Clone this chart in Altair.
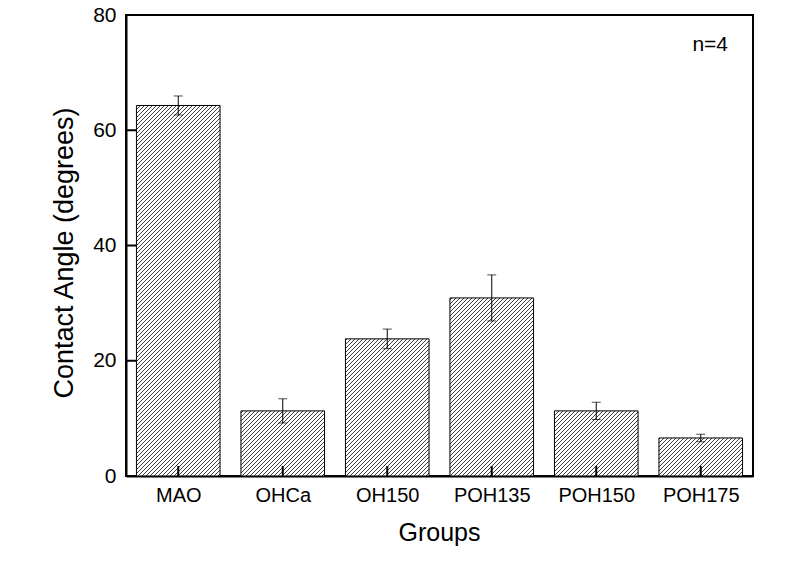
import altair as alt
import pandas as pd

# ---- data ----
groups = ["MAO", "OHCa", "OH150", "POH135", "POH150", "POH175"]
means = [64.3, 11.3, 23.8, 30.9, 11.3, 6.6]
errors = [1.65, 2.1, 1.7, 4.0, 1.5, 0.65]
y_ticks = [0, 20, 40, 60, 80]
y_max = 80

W, H = 627, 461
FONT = "Liberation Sans"
HALF = 0.4          # half bar width in slot units
SPACING = 4.0       # hatch spacing (px, horizontal)

n = len(groups)
idx = list(range(n))
bars = pd.DataFrame({
    "idx": idx, "group": groups, "mean": means, "err": errors,
})
bars["xl"] = bars["idx"] - HALF
bars["xr"] = bars["idx"] + HALF
bars["lo"] = bars["mean"] - bars["err"]
bars["hi"] = bars["mean"] + bars["err"]

# hatch lines derived from the bar values (45 deg in screen space)
pxu = W / n          # px per x unit
pyu = H / y_max      # px per y unit
rows = []
for i, v in zip(idx, means):
    L = (i - HALF + 0.5) * pxu
    R = (i + HALF + 0.5) * pxu
    T = v * pyu
    k0 = int((L - T) // SPACING)
    k1 = int(R // SPACING) + 1
    for m in range(k0, k1 + 1):
        k = m * SPACING
        if k < L - T or k > R:
            continue
        if k >= L:
            sx, sy = k, 0.0
        else:
            sx, sy = L, L - k
        if R - k <= T:
            ex, ey = R, R - k
        else:
            ex, ey = T + k, T
        if ex - sx < 0.3:
            continue
        rows.append({
            "x1": sx / pxu - 0.5, "y1": sy / pyu,
            "x2": ex / pxu - 0.5, "y2": ey / pyu,
        })
hatch = pd.DataFrame(rows)

xscale = alt.Scale(domain=[-0.5, n - 0.5], nice=False, zero=False)
yscale = alt.Scale(domain=[0, y_max], nice=False)

label_expr = "[" + ",".join("'%s'" % g for g in groups) + "][datum.value]"

xaxis = alt.Axis(
    values=idx, labelExpr=label_expr, title="Groups", ticks=False,
    grid=False, domainColor="black", domainWidth=2, labelFont=FONT,
    labelFontSize=20, labelColor="black", labelPadding=9,
    titleFont=FONT, titleFontSize=25, titleFontWeight="normal",
    titleColor="black", titleX=313, titleY=64, titleBaseline="alphabetic",
)
yaxis = alt.Axis(
    values=y_ticks, title="Contact Angle (degrees)", ticks=False,
    grid=False, domainColor="black", domainWidth=2, labelFont=FONT,
    labelFontSize=21, labelColor="black", labelPadding=10,
    titleFont=FONT, titleFontSize=27, titleFontWeight="normal",
    titleColor="black", titleAngle=-90, titleX=-54, titleY=237.5,
    titleBaseline="alphabetic", titleAlign="center",
)

base = alt.Chart(bars)

bar_fill = base.mark_rect(fill="white", stroke=None).encode(
    x=alt.X("xl:Q", scale=xscale, axis=xaxis),
    x2="xr:Q",
    y=alt.Y("mean:Q", scale=yscale, axis=yaxis),
    y2=alt.datum(0),
)

hatch_layer = alt.Chart(hatch).mark_rule(color="#1a1a1a", strokeWidth=0.85).encode(
    x=alt.X("x1:Q", scale=xscale), x2="x2:Q",
    y=alt.Y("y1:Q", scale=yscale), y2="y2:Q",
)

bar_outline = base.mark_rect(fill=None, stroke="black", strokeWidth=1).encode(
    x=alt.X("xl:Q", scale=xscale), x2="xr:Q",
    y=alt.Y("mean:Q", scale=yscale), y2=alt.datum(0),
)

err_line = base.mark_rule(color="black", strokeWidth=1).encode(
    x=alt.X("idx:Q", scale=xscale),
    y=alt.Y("lo:Q", scale=yscale), y2="hi:Q",
)
cap_lo = base.mark_tick(color="black", orient="horizontal", size=9, thickness=1).encode(
    x=alt.X("idx:Q", scale=xscale), y=alt.Y("lo:Q", scale=yscale),
)
cap_hi = base.mark_tick(color="black", orient="horizontal", size=9, thickness=1).encode(
    x=alt.X("idx:Q", scale=xscale), y=alt.Y("hi:Q", scale=yscale),
)

# inward ticks
yt = pd.DataFrame({"v": y_ticks})
ytick_layer = alt.Chart(yt).mark_rule(color="black", strokeWidth=2).encode(
    y=alt.Y("v:Q", scale=yscale), x=alt.value(0), x2=alt.value(10),
)
xtick_layer = base.mark_rule(color="black", strokeWidth=2).encode(
    x=alt.X("idx:Q", scale=xscale), y=alt.value(H), y2=alt.value(H - 10),
)

note = alt.Chart(pd.DataFrame({"t": ["n=4"]})).mark_text(
    font=FONT, fontSize=21, color="black", align="right", baseline="alphabetic",
).encode(text="t:N", x=alt.value(602), y=alt.value(36))

chart = alt.layer(
    bar_fill, hatch_layer, bar_outline, err_line, cap_lo, cap_hi,
    ytick_layer, xtick_layer, note,
).properties(
    width=W, height=H,
    autosize=alt.AutoSizeParams(type="none"),
    padding={"left": 126, "top": 15, "right": 52, "bottom": 88},
    background="white",
).configure_view(stroke="black", strokeWidth=2)

chart.save("out.html", embed_options={"renderer": "svg", "actions": False})
